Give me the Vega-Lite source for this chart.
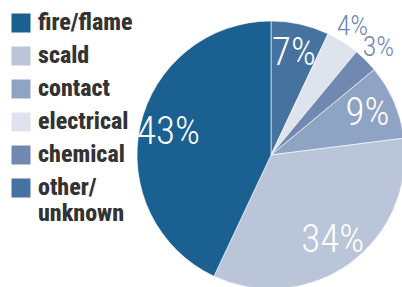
{
  "$schema": "https://vega.github.io/schema/vega-lite/v6.json",
  "width": 268,
  "height": 268,
  "autosize": {"type": "none"},
  "padding": {"left": 137, "top": 21, "right": 0, "bottom": 0},
  "background": "white",
  "config": {"view": {"stroke": null}},
  "data": {
    "values": [
      {"cause": "other/unknown", "share": 0.07, "rank": 1},
      {"cause": "electrical", "share": 0.04, "rank": 2},
      {"cause": "chemical", "share": 0.03, "rank": 3},
      {"cause": "contact", "share": 0.09, "rank": 4},
      {"cause": "scald", "share": 0.34, "rank": 5},
      {"cause": "fire/flame", "share": 0.43, "rank": 6}
    ]
  },
  "encoding": {
    "theta": {"field": "share", "type": "quantitative", "stack": true},
    "order": {"field": "rank", "type": "ordinal"}
  },
  "layer": [
    {
      "mark": {"type": "arc", "outerRadius": 134, "stroke": "white", "strokeWidth": 0.6},
      "encoding": {
        "color": {
          "field": "cause",
          "type": "nominal",
          "scale": {
            "domain": ["fire/flame", "scald", "contact", "electrical", "chemical", "other/unknown"],
            "range": ["#1a6091", "#bac5da", "#8fa4c4", "#dfe3ed", "#7189b0", "#46729f"]
          },
          "legend": {
            "title": null,
            "orient": "none",
            "legendX": -128,
            "legendY": -10,
            "symbolType": "square",
            "symbolSize": 361,
            "symbolStrokeWidth": 0,
            "symbolOpacity": 1,
            "labelFont": "Roboto Condensed",
            "labelFontSize": 24,
            "labelFontWeight": 800,
            "labelColor": "#333333",
            "labelOffset": 5,
            "labelLimit": 200,
            "rowPadding": 9,
            "labelExpr": "datum.label == 'other/unknown' ? ['other/', 'unknown'] : datum.label"
          }
        }
      }
    },
    {
      "mark": {"type": "text", "radius": 105, "font": "Roboto Condensed", "fontSize": 39, "fontWeight": 300, "color": "white", "align": "center", "baseline": "middle"},
      "encoding": {
        "text": {
          "condition": {"test": "datum.share < 0.05", "value": ""},
          "field": "share", "type": "quantitative", "format": ".0%"
        }
      }
    },
    {
      "mark": {"type": "text", "radius": 152, "font": "Roboto Condensed", "fontSize": 28, "fontWeight": 300, "color": "#7189b0", "align": "center", "baseline": "middle"},
      "encoding": {
        "text": {
          "condition": {"test": "datum.share >= 0.05", "value": ""},
          "field": "share", "type": "quantitative", "format": ".0%"
        }
      }
    }
  ]
}
